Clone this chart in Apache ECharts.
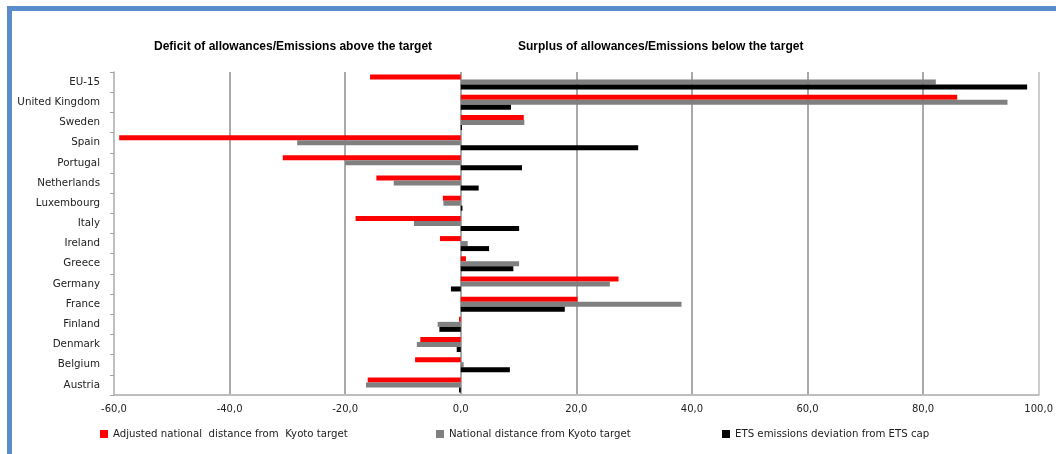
<!DOCTYPE html>
<html lang="en" style="height: 100%">
<head>
  <meta charset="utf-8">
  <script type="text/javascript" src="https://cdn.jsdelivr.net/npm/echarts@6/dist/echarts.min.js"></script>
</head>
<body style="height: 100%; margin: 0; background: #fff">
  <div id="frameTop" style="position:absolute; left:7px; top:6px; width:1049px; height:5px; background:#5a8ccc"></div>
  <div id="frameLeft" style="position:absolute; left:7px; top:6px; width:5px; height:448px; background:#5a8ccc"></div>
  <div id="chart" style="position:absolute; left:0; top:0; height: 454px; width:1056px"></div>

  <script type="text/javascript">

    // bottom to top, as the category axis draws them
    var countries = ['Austria', 'Belgium', 'Denmark', 'Finland', 'France', 'Germany', 'Greece', 'Ireland',
                     'Italy', 'Luxembourg', 'Netherlands', 'Portugal', 'Spain', 'Sweden', 'United Kingdom', 'EU-15'];

    var adjusted = [-16.1, -7.9, -7.0, -0.3, 20.2, 27.3, 0.9, -3.6, -18.2, -3.1, -14.6, -30.8, -59.1, 10.9, 85.9, -15.7];
    var national = [-16.4, 0.5, -7.6, -4.0, 38.2, 25.8, 10.1, 1.2, -8.1, -3.0, -11.6, -20.0, -28.3, 11.0, 94.6, 82.2];
    var ets      = [-0.3, 8.5, -0.7, -3.7, 18.0, -1.7, 9.1, 4.9, 10.1, 0.3, 3.1, 10.6, 30.7, 0.2, 8.7, 98.0];

    var seriesNames = ['Adjusted national  distance from  Kyoto target',
                       'National distance from Kyoto target',
                       'ETS emissions deviation from ETS cap'];

    var chart = echarts.init(document.getElementById('chart'));

    var legendText = { fontFamily: 'DejaVu Sans', fontSize: 10.2, color: '#222' };
    var titleText = { fontFamily: 'Liberation Sans', fontWeight: 'bold', fontSize: 12, color: '#000' };

    function oneLegend(i, x) {
      return { data: [seriesNames[i]], left: x, top: 429, icon: 'rect', itemWidth: 8, itemHeight: 8,
               itemGap: 0, textStyle: legendText, padding: 0 };
    }

    var option = {
      animation: false,
      title: [
        { text: 'Deficit of allowances/Emissions above the target', left: 149, top: 36, textStyle: titleText },
        { text: 'Surplus of allowances/Emissions below the target', left: 513, top: 36, textStyle: titleText }
      ],
      legend: [oneLegend(0, 100), oneLegend(1, 436), oneLegend(2, 722)],
      grid: { left: 114, right: 12, top: 72, bottom: 59 },
      xAxis: {
        type: 'value',
        min: -60,
        max: 100,
        interval: 20,
        axisLine: { show: true, onZero: false, lineStyle: { color: '#bdbdbd', width: 2 } },
        axisTick: { show: false },
        axisLabel: {
          fontFamily: 'DejaVu Sans', fontSize: 10, color: '#222', margin: 9,
          formatter: function (v) { return v.toFixed(1).replace('.', ','); }
        },
        splitLine: {
          show: true,
          lineStyle: { color: ['#bdbdbd', '#8c8c8c', '#8c8c8c', '#8c8c8c', '#8c8c8c', '#8c8c8c', '#8c8c8c', '#8c8c8c', '#bdbdbd'], width: 1.5 }
        }
      },
      yAxis: [
        {
          type: 'category',
          data: countries,
          axisLine: { show: false },
          axisTick: { show: false },
          axisLabel: { fontFamily: 'DejaVu Sans', fontSize: 10.3, color: '#222', margin: 14 }
        },
        {
          type: 'category',
          data: countries,
          position: 'left',
          axisLine: { show: true, onZero: true, lineStyle: { color: '#bdbdbd', width: 1.5 } },
          axisTick: { show: true, length: 4, lineStyle: { color: '#a0a0a0' } },
          axisLabel: { show: false }
        }
      ],
      series: [
        { name: seriesNames[0], type: 'bar', data: adjusted, itemStyle: { color: '#ff0000' }, barWidth: 5, barGap: '0%', barCategoryGap: '25%' },
        { name: seriesNames[1], type: 'bar', data: national, itemStyle: { color: '#808080' }, barWidth: 5, barGap: '0%' },
        { name: seriesNames[2], type: 'bar', data: ets, itemStyle: { color: '#000000' }, barWidth: 5, barGap: '0%' }
      ]
    };

    chart.setOption(option);
  </script>
</body>
</html>
